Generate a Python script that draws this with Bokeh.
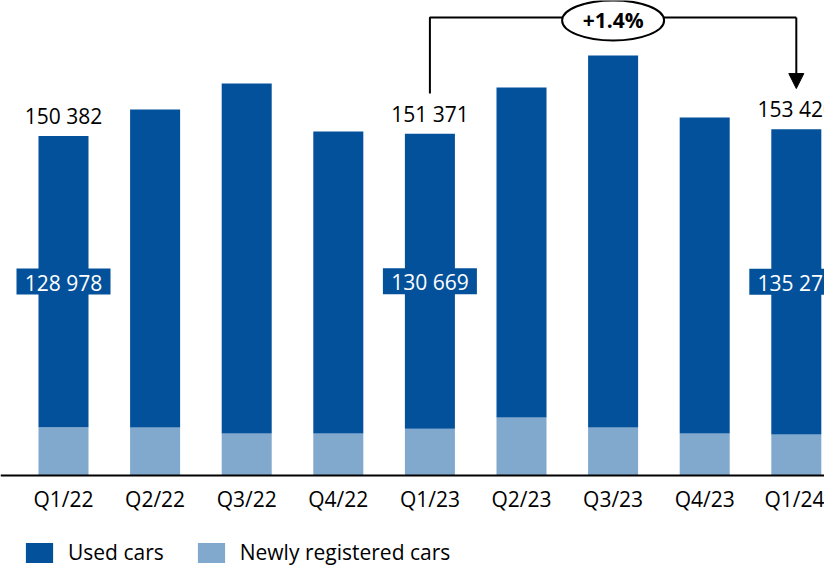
from bokeh.plotting import figure
from bokeh.models import Range1d, FixedTicker, Legend, LegendItem, Arrow, NormalHead, ColumnDataSource, LinearAxis
from bokeh.core.properties import value
from bokeh.embed import file_html
from bokeh.resources import INLINE

quarters = ["Q1/22", "Q2/22", "Q3/22", "Q4/22", "Q1/23", "Q2/23", "Q3/23", "Q4/23", "Q1/24"]
newly_registered = [21404, 21300, 18600, 18600, 20702, 25700, 21300, 18600, 18149]
used_cars = [128978, 140800, 155100, 133800, 130669, 146200, 164800, 140000, 135271]
labeled = [0, 4, 8]
change_text = "+1.4%"

DARK = "#03519B"
LIGHT = "#81A8CD"
FONT = "Open Sans"

xs = list(range(len(quarters)))
totals = [n + u for n, u in zip(newly_registered, used_cars)]

def fmt(v):
    return f"{v:,}".replace(",", " ")

src = ColumnDataSource(dict(x=xs, new=newly_registered, used=used_cars))

p = figure(width=824, height=566, output_backend="svg", toolbar_location=None,
           x_range=Range1d(-0.6878, 8.3078), y_range=Range1d(-40313, 210425),
           x_axis_location=None, y_axis_location=None,
           min_border_left=0, min_border_right=0, min_border_top=0, min_border_bottom=0)
p.outline_line_color = None
p.grid.visible = False

rs = p.vbar_stack(["new", "used"], x="x", width=0.546, color=[LIGHT, DARK], source=src, line_width=0)

ax = LinearAxis(fixed_location=0)
ax.ticker = FixedTicker(ticks=xs)
ax.major_label_overrides = {i: q for i, q in zip(xs, quarters)}
ax.major_tick_line_color = None
ax.minor_tick_line_color = None
ax.axis_line_width = 2
ax.axis_line_color = "black"
ax.major_label_text_font = FONT
ax.major_label_text_font_size = "21px"
ax.major_label_text_color = "black"
ax.major_label_standoff = 3
p.add_layout(ax, "below")

# total labels
p.text(x=[xs[i] for i in labeled], y=[totals[i] for i in labeled],
       text=[fmt(totals[i]) for i in labeled], text_align="center",
       text_baseline="alphabetic", y_offset=-20, text_font=value(FONT),
       text_font_size="21px", text_color="black")

# used car labels in boxes
ymid = [newly_registered[i] + used_cars[i] / 2 for i in labeled]
p.rect(x=[xs[i] for i in labeled], y=ymid, width=94, height=26,
       width_units="screen", height_units="screen", fill_color=DARK, line_color=None)
p.text(x=[xs[i] for i in labeled], y=ymid, text=[fmt(used_cars[i]) for i in labeled],
       text_align="center", text_baseline="middle", text_font=value(FONT),
       text_font_size="21px", text_color="white", y_offset=1)

# change bracket
a, b = labeled[1], labeled[2]
y_top = 202900
p.line(x=[xs[a], xs[a], xs[b]], y=[totals[a] + 17800, y_top, y_top], line_color="black", line_width=2)
p.add_layout(Arrow(end=NormalHead(size=15, fill_color="black", line_color="black"),
                   x_start=xs[b], y_start=y_top, x_end=xs[b], y_end=totals[b] + 18000,
                   line_width=2, line_color="black"))
xm = (xs[a] + xs[b]) / 2
p.ellipse(x=[xm], y=[201600], width=102, height=40, width_units="screen", height_units="screen",
          fill_color="white", line_color="black", line_width=2)
p.text(x=[xm], y=[201600], text=[change_text], text_align="center", text_baseline="middle",
       text_font=value(FONT), text_font_size="21px", text_font_style="bold", text_color="black")

legend = Legend(items=[LegendItem(label="Used cars", renderers=[rs[1]]),
                       LegendItem(label="Newly registered cars", renderers=[rs[0]])],
                orientation="horizontal", location=(22, 0), padding=0, margin=0,
                border_line_color=None, background_fill_alpha=0,
                glyph_width=34, glyph_height=25, label_standoff=12, spacing=30,
                label_text_font=FONT, label_text_font_size="21px", label_text_color="black")
p.add_layout(legend, "center")

open("out.html", "w").write(file_html(p, INLINE))
